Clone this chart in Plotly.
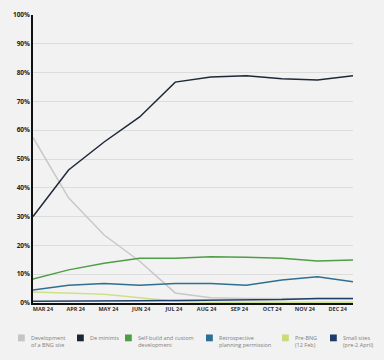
import plotly.graph_objects as go

months = ["MAR 24", "APR 24", "MAY 24", "JUN 24", "JUL 24", "AUG 24", "SEP 24", "OCT 24", "NOV 24", "DEC 24"]

bng_site = [57.5, 36.5, 23.6, 14.5, 3.5, 1.8, 1.6, 1.5, 1.5, 1.5]
de_minimis = [30.0, 46.2, 55.9, 64.6, 76.7, 78.5, 78.9, 77.9, 77.4, 78.9]
self_build = [8.3, 11.5, 13.8, 15.5, 15.5, 16.1, 15.9, 15.5, 14.6, 14.9]
retrospective = [4.5, 6.2, 6.8, 6.2, 6.8, 6.8, 6.2, 8.0, 9.1, 7.4]
pre_bng = [3.8, 3.4, 3.0, 1.8, 0.6, 0.3, 0.3, 0.3, 0.3, 0.3]
small_sites = [0.6, 0.6, 0.7, 0.8, 0.9, 1.0, 1.0, 1.2, 1.6, 1.6]

series_names = ["Development<br>of a BNG site", "De minimis", "Self-build and custom<br>development",
                "Retrospective<br>planning permission", "Pre-BNG<br>(12 Feb)", "Small sites<br>(pre-2 April)"]
series_values = [bng_site, de_minimis, self_build, retrospective, pre_bng, small_sites]
line_colors = ["#c8c8c8", "#1e2838", "#4e9e46", "#2f6f90", "#cfe08a", "#1f3f6b"]
swatch_colors = ["#c4c4c4", "#1a2535", "#4e9e46", "#2a6f95", "#c8dc78", "#1d3c6a"]

# layout of the custom legend (pixel positions of swatch left edges)
W, H = 384, 360
ML, MR, MT, MB = 33, 31, 15, 57
plot_w, plot_h = W - ML - MR, H - MT - MB
swatch_left_px = [18, 77, 125, 206, 282, 330]
swatch_size = 6.8
swatch_top_px = 334.5
text_gap_px = 5


def px_to_paper_x(px):
    return (px - ML) / plot_w


def px_to_paper_y(py):
    return (H - MB - py) / plot_h


x = list(range(len(months)))
fig = go.Figure()
for name, vals, lc in zip(series_names, series_values, line_colors):
    fig.add_trace(go.Scatter(x=x, y=vals, mode="lines", line=dict(color=lc, width=1.5),
                             name=name.replace("<br>", " "), showlegend=False))

shapes, annotations = [], []
for name, sc, sl in zip(series_names, swatch_colors, swatch_left_px):
    shapes.append(dict(type="rect", xref="paper", yref="paper",
                       x0=px_to_paper_x(sl), x1=px_to_paper_x(sl + swatch_size),
                       y0=px_to_paper_y(swatch_top_px + swatch_size), y1=px_to_paper_y(swatch_top_px),
                       fillcolor=sc, line=dict(width=0), layer="above"))
    annotations.append(dict(text=name, xref="paper", yref="paper",
                            x=px_to_paper_x(sl + swatch_size + text_gap_px),
                            y=px_to_paper_y(swatch_top_px - 1.5),
                            xanchor="left", yanchor="top", align="left", showarrow=False,
                            borderpad=0,
                            font=dict(size=5.5, color="#808080")))

tickpos = [0.28 + 0.921 * i for i in range(len(months))]

fig.update_layout(
    width=W, height=H,
    margin=dict(l=ML, r=MR, t=MT, b=MB, autoexpand=False),
    paper_bgcolor="#f2f2f2", plot_bgcolor="#f2f2f2",
    font=dict(family="Open Sans, sans-serif", color="#222"),
    showlegend=False,
    xaxis=dict(range=[0, 9], tickvals=tickpos, ticktext=months, showgrid=False,
               showline=True, linecolor="#111", linewidth=1.5, zeroline=False,
               ticks="", tickfont=dict(size=5.5, color="#333", weight="bold")),
    yaxis=dict(range=[0, 100], tickvals=list(range(0, 101, 10)),
               ticktext=[f"{v}%" for v in range(0, 101, 10)],
               showgrid=True, gridcolor="#dcdcdc", gridwidth=1,
               showline=True, linecolor="#111", linewidth=1.5, zeroline=False,
               ticks="", tickfont=dict(size=6.5, color="#222", weight="bold")),
    shapes=shapes,
    annotations=annotations,
)

fig.write_html("out.html", config={"displayModeBar": False},
               post_script="document.body.style.margin='0px';document.body.style.overflow='hidden';")
